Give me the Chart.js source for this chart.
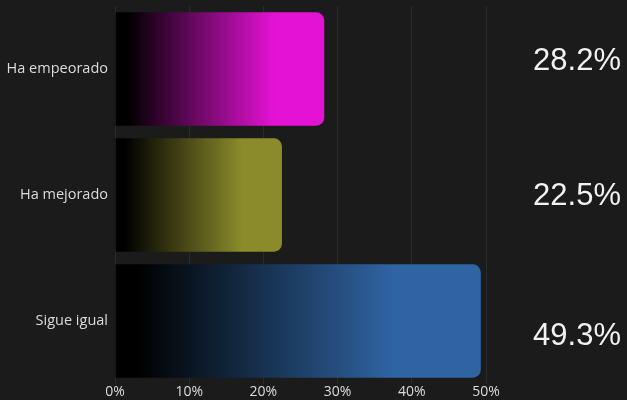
<!DOCTYPE html>
<html>
<head>
<meta charset="utf-8">
<script src="https://cdn.jsdelivr.net/npm/chart.js@4/dist/chart.umd.min.js"></script>
<style>
  html, body { margin: 0; padding: 0; background: #1b1b1b; }
  #wrap { position: relative; width: 627px; height: 400px; }
</style>
</head>
<body>
<div id="wrap"><canvas id="grafik"></canvas></div>
<script>
// ── VERI ──
const kategoriler = ['Ha empeorado', 'Ha mejorado', 'Sigue igual']
const yuzdeler = [28.2, 22.5, 49.3]
const renkler = ['#e412d4', '#8b8b2b', '#2f64a2']
const etiketKaydir = [-8, 1, 15]

// arka plan
const arkaPlan = {
  id: 'arkaPlan',
  beforeDraw(chart) {
    const { ctx, width, height } = chart
    ctx.save()
    ctx.fillStyle = '#1b1b1b'
    ctx.fillRect(0, 0, width, height)
    ctx.restore()
  }
}

// sagdaki buyuk yuzde etiketleri
const sagEtiket = {
  id: 'sagEtiket',
  afterDraw(chart) {
    const { ctx, width } = chart
    const meta = chart.getDatasetMeta(0)
    ctx.save()
    ctx.font = '31px "Liberation Sans", Arial, sans-serif'
    ctx.fillStyle = '#f2f2f2'
    ctx.textAlign = 'right'
    ctx.textBaseline = 'middle'
    meta.data.forEach((bar, i) => {
      ctx.fillText(yuzdeler[i].toFixed(1) + '%', width - 6, bar.y + etiketKaydir[i])
    })
    ctx.restore()
  }
}

// soldan siyahtan renge gecis
function gradyan(context) {
  const chart = context.chart
  const { chartArea } = chart
  if (!chartArea) return renkler[context.dataIndex]
  const x = chart.scales.x
  const bas = x.getPixelForValue(0)
  const son = x.getPixelForValue(yuzdeler[context.dataIndex])
  const g = chart.ctx.createLinearGradient(bas, 0, son, 0)
  const r = renkler[context.dataIndex]
  g.addColorStop(0, '#000000')
  g.addColorStop(0.06, '#000000')
  g.addColorStop(0.76, r)
  g.addColorStop(1, r)
  return g
}

new Chart(document.getElementById('grafik'), {
  type: 'bar',
  data: {
    labels: kategoriler,
    datasets: [{
      data: yuzdeler,
      backgroundColor: gradyan,
      borderRadius: 8,
      borderSkipped: 'start',
      categoryPercentage: 1,
      barPercentage: 0.9
    }]
  },
  options: {
    indexAxis: 'y',
    responsive: true,
    maintainAspectRatio: false,
    animation: false,
    layout: { padding: { top: 6, right: 141, left: 0, bottom: 0 } },
    plugins: { legend: { display: false }, tooltip: { enabled: false } },
    scales: {
      x: {
        min: 0,
        max: 50,
        afterFit(s) { s.height = 16 },
        ticks: {
          stepSize: 10,
          color: '#dcdcdc',
          font: { family: '"Open Sans", sans-serif', size: 14 },
          padding: 0,
          callback: v => v + '%'
        },
        grid: { color: 'rgba(255,255,255,0.07)', drawTicks: false },
        border: { display: false }
      },
      y: {
        afterFit(s) {
          s.width = 115
          s.paddingTop = 0
          s.paddingBottom = 0
        },
        ticks: {
          color: '#dcdcdc',
          font: { family: '"Open Sans", sans-serif', size: 14.5 },
          padding: 7
        },
        grid: { display: false, drawTicks: false },
        border: { display: false }
      }
    }
  },
  plugins: [arkaPlan, sagEtiket]
})
</script>
</body>
</html>
